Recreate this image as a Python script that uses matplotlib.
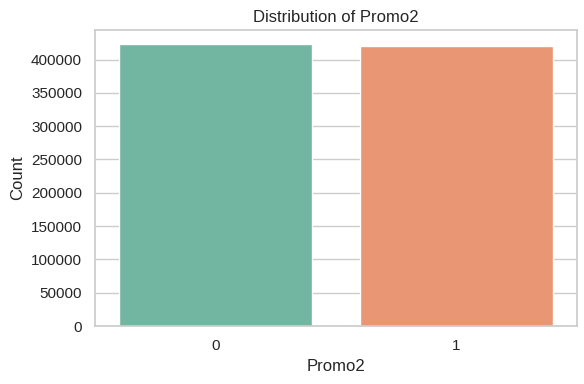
import matplotlib
matplotlib.use("Agg")
import matplotlib.pyplot as plt
from matplotlib.ticker import MultipleLocator
import seaborn as sns
import pandas as pd

categories = ["0", "1"]
counts = [423307, 421085]

sns.set_theme(style="whitegrid")
plt.rcParams['font.family'] = ['Liberation Sans', 'DejaVu Sans']

df = pd.DataFrame({"Promo2": categories, "Count": counts})

fig, ax = plt.subplots(figsize=(5.84, 3.84), dpi=100)
sns.barplot(data=df, x="Promo2", y="Count", hue="Promo2",
            palette="Set2", legend=False, ax=ax)
ax.yaxis.set_major_locator(MultipleLocator(50000))
ax.set_title("Distribution of Promo2")
ax.set_xlabel("Promo2")
ax.set_ylabel("Count")
fig.subplots_adjust(left=0.163, right=0.988, top=0.922, bottom=0.151)
plt.savefig("out.png", dpi=100)
